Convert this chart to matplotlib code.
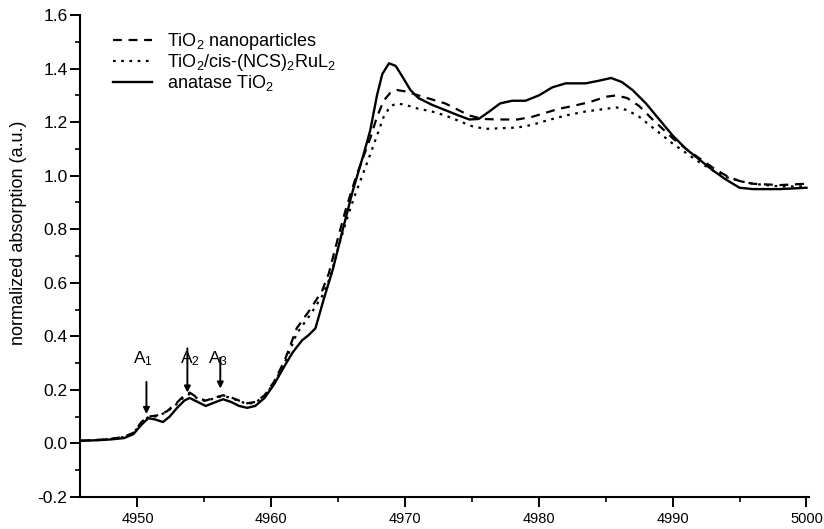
import matplotlib
matplotlib.use("Agg")
import matplotlib.pyplot as plt
from matplotlib.ticker import MultipleLocator, FormatStrFormatter

plt.rcParams["font.family"] = ["Liberation Sans", "DejaVu Sans"]
plt.rcParams["mathtext.default"] = "regular"

# ── Data ─────────────────────────────────────────────────────────────────────
E_ANATASE = [4945.7, 4947, 4948, 4949, 4949.7, 4950.3, 4950.8, 4951.3, 4951.9, 4952.4,
             4953.0, 4953.5, 4953.9, 4954.5, 4955.1, 4955.7, 4956.4, 4957.0, 4957.6, 4958.2,
             4958.8, 4959.5, 4960.2, 4961.0, 4961.6, 4962.3, 4962.8, 4963.3, 4963.9, 4964.6,
             4965.4, 4966.1, 4966.9, 4967.4, 4967.9, 4968.3, 4968.8, 4969.3, 4969.8,
             4970.4, 4971.0, 4972.0, 4973, 4974, 4974.8, 4975.5, 4976.3, 4977.1, 4978,
             4979, 4980, 4981, 4982, 4983.5, 4984.5, 4985.4, 4986.2, 4987, 4988,
             4989, 4990, 4991, 4992, 4993, 4994, 4995, 4996, 4998, 5000]
A_ANATASE = [0.010, 0.012, 0.015, 0.020, 0.035, 0.070, 0.094, 0.090, 0.080, 0.100,
             0.135, 0.160, 0.170, 0.155, 0.140, 0.152, 0.165, 0.155, 0.140, 0.133,
             0.140, 0.170, 0.220, 0.290, 0.340, 0.385, 0.405, 0.430, 0.535, 0.650,
             0.810, 0.945, 1.080, 1.170, 1.300, 1.380, 1.420, 1.410, 1.370,
             1.320, 1.290, 1.265, 1.245, 1.225, 1.210, 1.212, 1.240, 1.270, 1.280,
             1.280, 1.300, 1.330, 1.345, 1.345, 1.355, 1.365, 1.350, 1.320, 1.270,
             1.210, 1.150, 1.100, 1.060, 1.020, 0.985, 0.955, 0.950, 0.950, 0.955]

E_NANO = [4945.7, 4947, 4948, 4949, 4949.7, 4950.3, 4950.8, 4951.5, 4952.2, 4953.0,
          4953.5, 4953.9, 4954.5, 4955.1, 4955.7, 4956.4, 4957.0, 4957.6, 4958.2, 4958.8,
          4959.5, 4960.2, 4961.0, 4961.9, 4962.9, 4963.8, 4964.3, 4965.0,
          4965.6, 4966.2, 4966.8, 4967.4, 4967.9, 4968.4, 4968.9, 4969.4, 4970, 4971,
          4972, 4973, 4974, 4974.8, 4975.8, 4977, 4978.4, 4979.5, 4980.5, 4981.5,
          4982.5, 4983.8, 4985, 4985.8, 4986.6, 4987.5, 4988.5, 4990, 4991, 4992,
          4993, 4994, 4995, 4996, 4998, 5000]
A_NANO = [0.010, 0.013, 0.017, 0.025, 0.040, 0.080, 0.100, 0.105, 0.120, 0.155,
          0.180, 0.190, 0.170, 0.160, 0.170, 0.180, 0.172, 0.160, 0.150, 0.155,
          0.180, 0.230, 0.310, 0.430, 0.500, 0.570, 0.635, 0.770,
          0.880, 0.975, 1.060, 1.140, 1.220, 1.280, 1.310, 1.320, 1.315, 1.300,
          1.285, 1.270, 1.245, 1.225, 1.212, 1.210, 1.210, 1.220, 1.235, 1.250,
          1.260, 1.275, 1.295, 1.300, 1.290, 1.260, 1.210, 1.140, 1.100, 1.065,
          1.030, 1.000, 0.980, 0.970, 0.965, 0.970]

E_DYE = [4945.7, 4947, 4948, 4949, 4949.7, 4950.3, 4950.8, 4951.5, 4952.2, 4953.0,
         4953.5, 4953.9, 4954.5, 4955.1, 4955.7, 4956.4, 4957.0, 4957.6, 4958.2, 4958.8,
         4959.5, 4960.2, 4961.0, 4961.9, 4962.9, 4963.8, 4964.4, 4965.0, 4965.6,
         4966.2, 4966.8, 4967.4, 4967.9, 4968.4, 4968.9, 4969.4, 4970, 4971, 4972,
         4973, 4974, 4975, 4976, 4977, 4978.4, 4979.5, 4980.5, 4982, 4983.5,
         4985, 4985.8, 4986.6, 4987.5, 4988.5, 4990, 4991, 4992, 4993, 4994,
         4995, 4996, 4998, 5000]
A_DYE = [0.010, 0.013, 0.017, 0.024, 0.038, 0.078, 0.098, 0.102, 0.118, 0.150,
         0.175, 0.185, 0.168, 0.158, 0.168, 0.178, 0.170, 0.158, 0.148, 0.152,
         0.178, 0.225, 0.300, 0.410, 0.480, 0.550, 0.620, 0.730, 0.830,
         0.920, 1.000, 1.080, 1.150, 1.220, 1.260, 1.270, 1.265, 1.250, 1.240,
         1.225, 1.205, 1.185, 1.175, 1.177, 1.180, 1.190, 1.205, 1.225, 1.240,
         1.250, 1.255, 1.245, 1.220, 1.180, 1.120, 1.085, 1.050, 1.020, 0.995,
         0.980, 0.970, 0.960, 0.960]

PEAK_LABELS = ["A$_1$", "A$_2$", "A$_3$"]
PEAK_LABEL_E = [4950.4, 4953.9, 4956.0]
PEAK_E = [4950.67, 4953.73, 4956.19]
PEAK_FROM = [0.23, 0.355, 0.32]
PEAK_TIP = [0.11, 0.19, 0.205]

# ── Figure ───────────────────────────────────────────────────────────────────
fig = plt.figure(figsize=(8.24, 5.29), dpi=100)
ax = fig.add_axes([0.097, 0.0605, 0.885, 0.911])

ax.plot(E_NANO, A_NANO, color="black", lw=1.6, ls=(0, (4, 3)),
        label="TiO$_2$ nanoparticles")
ax.plot(E_DYE, A_DYE, color="black", lw=1.6, ls=(0, (1.2, 2.5)),
        label="TiO$_2$/cis-(NCS)$_2$RuL$_2$")
ax.plot(E_ANATASE, A_ANATASE, color="black", lw=1.7, ls="-",
        label="anatase TiO$_2$")

# peak markers
for lab, le, e, y0, tip in zip(PEAK_LABELS, PEAK_LABEL_E, PEAK_E, PEAK_FROM, PEAK_TIP):
    ax.text(le, 0.30, lab, ha="center", va="baseline", fontsize=12.5)
    ax.annotate("", xy=(e, tip), xytext=(e, y0),
                arrowprops=dict(arrowstyle="-|>", color="black", lw=1.4,
                                mutation_scale=9, shrinkA=0, shrinkB=0))

ax.set_xlim(4945.7, 5000.2)
ax.set_ylim(-0.2, 1.6)

ax.xaxis.set_major_locator(MultipleLocator(10))
ax.xaxis.set_minor_locator(MultipleLocator(5))
ax.yaxis.set_major_locator(MultipleLocator(0.2))
ax.yaxis.set_minor_locator(MultipleLocator(0.1))
ax.yaxis.set_major_formatter(FormatStrFormatter("%.1f"))

ax.tick_params(axis="both", which="major", direction="out", length=7, width=1.4)
ax.tick_params(axis="both", which="minor", direction="out", length=3.5, width=1.2)
ax.tick_params(axis="x", labelsize=10.5, pad=4)
ax.tick_params(axis="y", labelsize=12.5, pad=2)

for side in ("top", "right"):
    ax.spines[side].set_visible(False)
for side in ("left", "bottom"):
    ax.spines[side].set_linewidth(1.5)

fig.text(19 / 824, 1 - 233 / 529, "normalized absorption (a.u.)",
         rotation=90, ha="center", va="center", fontsize=13)

ax.legend(loc="upper left", bbox_to_anchor=(0.045, 0.967), frameon=False,
          handlelength=2.2, handletextpad=0.8, fontsize=13, labelspacing=0.0,
          borderaxespad=0, borderpad=0)

fig.savefig("out.png", dpi=100, facecolor="white")
plt.close(fig)
